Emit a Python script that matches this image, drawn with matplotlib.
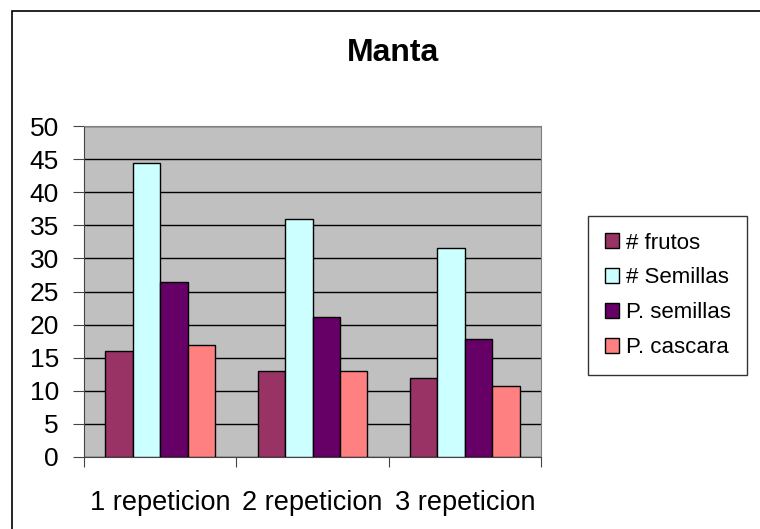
import numpy as np
import matplotlib.pyplot as plt
from matplotlib.patches import Rectangle

plt.rcParams['font.family'] = ['Liberation Sans', 'DejaVu Sans']

categories = ['1 repeticion', '2 repeticion', '3 repeticion']
series_names = ['# frutos', '# Semillas', 'P. semillas', 'P. cascara']
frutos = [16.0, 13.0, 11.9]
semillas = [44.4, 35.9, 31.6]
p_semillas = [26.4, 21.2, 17.9]
p_cascara = [16.9, 13.0, 10.8]
colors = ['#993366', '#CCFFFF', '#660066', '#FF8080']

fig = plt.figure(figsize=(7.6, 5.29), dpi=100)
ax = fig.add_axes([84 / 760, 1 - 457 / 529, (541 - 84) / 760, (457 - 126) / 529])

# outer chart frame (only left/top visible)
fig.patches.append(Rectangle((12 / 760, -0.1), 1.2, 1 - 11 / 529 + 0.1,
                             transform=fig.transFigure, fill=False,
                             edgecolor='black', linewidth=1.2))

x = np.arange(len(categories))
w = 0.18
data = [frutos, semillas, p_semillas, p_cascara]
for i, (vals, name) in enumerate(zip(data, series_names)):
    ax.bar(x + (i - 1.5) * w, vals, w, color=colors[i], edgecolor='black',
           linewidth=1.0, label=name, zorder=3)

ax.set_facecolor('#C0C0C0')
ax.set_xlim(-0.5, 2.5)
ax.set_ylim(0, 50)
ax.set_yticks(range(0, 51, 5))
ax.yaxis.grid(True, color='black', linewidth=1.0, zorder=1)
ax.set_axisbelow(True)

ax.set_xticks([-0.5, 0.5, 1.5, 2.5], minor=False)
ax.set_xticklabels([])
ax.set_xticks(x, minor=True)
ax.set_xticklabels(categories, minor=True)
ax.tick_params(axis='x', which='major', length=7, direction='out', color='#444444')
ax.tick_params(axis='x', which='minor', length=0, pad=24, labelsize=19.5)
ax.tick_params(axis='y', length=8, direction='out', pad=10, labelsize=19, color='#444444')

for s in ['top', 'right']:
    ax.spines[s].set_color('#808080')
for s in ['left', 'bottom']:
    ax.spines[s].set_color('#444444')

fig.text(393 / 760, 1 - 53 / 529, 'Manta', ha='center', va='center',
         fontsize=23, fontweight='bold')

leg = fig.legend(loc='upper left', bbox_to_anchor=(588 / 760, 1 - 216 / 529),
                 frameon=True, fancybox=False, fontsize=16, handlelength=0.65,
                 handleheight=0.65, handletextpad=0.3, labelspacing=0.62,
                 borderpad=0.75, borderaxespad=0)
leg.get_frame().set_edgecolor('black')
leg.get_frame().set_linewidth(1.0)

fig.savefig('out.png', dpi=100)
